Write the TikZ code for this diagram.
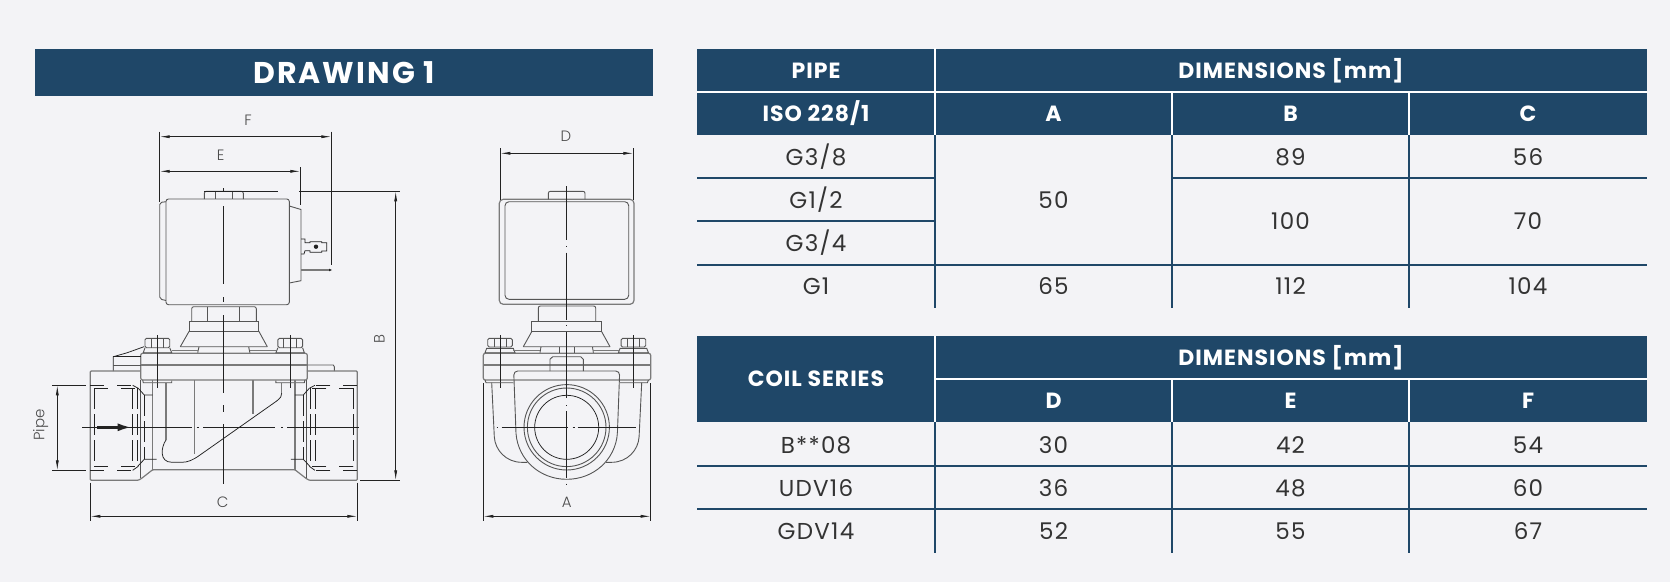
\documentclass[tikz,border=0pt]{standalone}
\usepackage{fontspec}
\setmainfont{Poppins}
\newfontfamily\thinfont{Poppins Light}
\newfontfamily\headfont[LetterSpace=4.5]{Poppins}
\newfontfamily\titlefont[LetterSpace=7]{Poppins}
\newfontfamily\cellfont[LetterSpace=5.5]{Poppins}
\usetikzlibrary{arrows.meta}
\definecolor{navy}{HTML}{1F4768}
\definecolor{paper}{HTML}{F3F3F6}
\definecolor{ink}{HTML}{222222}
\definecolor{greyline}{HTML}{7A7A7A}
\tikzset{
    x=1pt, y=-1pt,
    thin line/.style={line width=.75pt, draw=ink},
    body/.style={line width=.9pt, draw=greyline!70!black},
    grey part/.style={line width=1.2pt, draw=greyline},
    dim/.style={line width=.7pt, draw=ink, {Latex[length=10pt,width=3pt]}-{Latex[length=10pt,width=3pt]}},
    ext/.style={line width=.7pt, draw=ink},
    axis/.style={line width=.7pt, draw=ink},
    thread/.style={line width=.7pt, draw=ink, dash pattern=on 14pt off 13pt},
    long thread/.style={line width=.7pt, draw=ink, dash pattern=on 21pt off 5pt},
    dimlabel/.style={font=\thinfont\fontsize{15}{18}\selectfont, text=black!70, inner sep=0pt},
    headcell/.style={font=\headfont\fontsize{22}{24}\selectfont\bfseries, text=white, inner sep=0pt, text height=15pt, text depth=0pt},
    cell/.style={font=\cellfont\fontsize{23}{24}\selectfont, text=black!80, inner sep=0pt, text height=16pt, text depth=0pt},
    white sep/.style={line width=1.6pt, draw=white},
    navy sep/.style={line width=1.8pt, draw=navy},
}

\begin{document}
\begin{tikzpicture}
\fill[paper] (0,0) rectangle (1670,582);
\useasboundingbox (0,0) rectangle (1670,582);

% title and table headers
\fill[navy] (35,48.5) rectangle (653,96);
\node (title) [font=\titlefont\fontsize{30}{32}\selectfont\bfseries, text=white, inner sep=0pt] at (344,72.5) {DRAWING 1};
\fill[navy] (697,48.5) rectangle (1647,135);
\fill[navy] (697,336) rectangle (1647,422.3);

\draw[white sep] (697,92) -- (1647,92)
      (935,48) -- (935,135)
      (1172,92) -- (1172,135)
      (1409,92) -- (1409,135);
\draw[white sep] (935,379) -- (1647,379)
      (935,336) -- (935,422.3)
      (1172,379) -- (1172,422.3)
      (1409,379) -- (1409,422.3);

\draw[navy sep] (697,177.7) -- (935,177.7)
      (1172,177.7) -- (1647,177.7)
      (697,221) -- (935,221)
      (697,265) -- (1647,265);
\draw[navy sep] (697,465.7) -- (1647,465.7)
      (697,509) -- (1647,509);
\foreach \colx in {935,1172,1409}{
    \draw[navy sep] (\colx,135) -- (\colx,307.7);
    \draw[navy sep] (\colx,422.3) -- (\colx,552.7);
}

\foreach \cellname/\cellx/\celly/\celltext in {
    headPipe/816/70.7/PIPE, headIso/816/114/{ISO 228/1},
    headDimA/1291/70.7/{DIMENSIONS [mm]},
    headA/1053.5/114/A, headB/1290.5/114/B, headC/1528/114/C,
    headCoil/816/379/COIL SERIES,
    headDimB/1291/358/{DIMENSIONS [mm]},
    headD/1053.5/401/D, headE/1290.5/401/E, headF/1528/401/F}
    \node (\cellname) [headcell] at (\cellx,\celly) {\celltext};

\foreach \cellname/\cellx/\celly/\celltext in {
    pipeA/816/157/{G3/8}, pipeB/816/200/{G1/2}, pipeC/816/243/{G3/4}, pipeD/816/286/G1,
    dimAa/1053.5/200/50, dimBa/1290.5/157/89, dimCa/1528/157/56,
    dimBb/1290.5/221.5/100, dimCb/1528/221.5/70,
    dimAd/1053.5/286/65, dimBd/1290.5/286/112, dimCd/1528/286/104,
    coilA/816/445.7/B**08, coilB/816/488.3/UDV16, coilC/816/531/GDV14,
    dimDa/1053.5/445.7/30, dimEa/1290.5/445.7/42, dimFa/1528/445.7/54,
    dimDb/1053.5/488.3/36, dimEb/1290.5/488.3/48, dimFb/1528/488.3/60,
    dimDc/1053.5/531/52, dimEc/1290.5/531/55, dimFc/1528/531/67}
    \node (\cellname) [cell] at (\cellx,\celly) {\celltext};

% side view, coil
\draw[body, rounded corners=2.5pt] (166,199) rectangle (289.3,304.7);
\draw[body, rounded corners=2pt] (166,201.7) -- (159.7,202.5) -- (159.7,299) -- (166,300.5);
\draw[body] (289.3,206) -- (301,209.5) -- (301,280.7) -- (289.3,283);
\draw[body, rounded corners=2pt] (204.3,199) -- (204.3,191.3) -- (243.3,191.3) -- (243.3,199);
\draw[body] (215,191.3) -- (215,199) (232.3,191.3) -- (232.3,199);
\draw[thin line] (301,239) -- (305,239) -- (305,242.7) -- (310,242.7) -- (310,241.7)
    -- (321.7,241.7) -- (321.7,242.7) -- (326.7,242.7) -- (326.7,251) -- (321.7,251)
    -- (321.7,252.3) -- (310,252.3) -- (310,250.7) -- (305,250.7) -- (304,254) -- (301,254);
\fill[ink] (316,246.7) circle (2.2pt);
\draw[line width=2.6pt, draw=greyline] (301,270) -- (329,270);
\fill[ink] (329,268.7) -- (332,270) -- (329,271.3) -- cycle;

% side view, neck
\draw[body, rounded corners=2pt] (191.7,321.3) -- (191.7,306.7) -- (256.3,306.7) -- (256.3,321.3);
\draw[body] (207.3,306.7) -- (207.3,321.3) (239.7,306.7) -- (239.7,321.3);
\draw[body] (189.3,321.3) rectangle (258.7,331);
\draw[body] (189.3,331) -- (180.3,346.7) (258.7,331) -- (267.3,346.7);

% side view, flange and valve
\draw[grey part, rounded corners=2pt] (140.7,353.3) rectangle (307.3,380);
\draw[grey part] (140.7,365) -- (307.3,365);
\draw[thin line] (113.3,371) -- (113.3,356.7) -- (127.3,352.7) -- (144,346.7);
\draw[thin line] (113.3,356.7) -- (140.7,356.7);
\draw[body] (113.3,365) -- (140.7,365);
\draw[body] (307.3,365) -- (333.3,365) -- (334.3,366.7) -- (334.3,371);
\draw[grey part] (166,382.7) -- (166,440);
\draw[thin line] (166,440) .. controls (161,447) and (159,462.3) .. (172,462.3)
    -- (181.7,462.3) .. controls (188,462.3) and (193,460) .. (200,455)
    -- (276.7,401) .. controls (281,397.5) and (281.7,396) .. (281.7,393);
\draw[grey part] (281.7,393) -- (281.7,382.7);
\draw[grey part] (194.3,380) -- (194.3,454.3) (253,380) -- (253,414.3);

\foreach \m in {1,-1}{
\begin{scope}[shift={(223.8,0)}, xscale=\m, shift={(-223.8,0)}]
    % bolt
    \draw[body, rounded corners=1.5pt] (145,347.7) -- (145,338.3) -- (169.7,338.3) -- (169.7,347.7) -- cycle;
    \draw[body] (151.3,338.3) -- (151.3,347.7) (163.7,338.3) -- (163.7,347.7);
    \draw[body] (145,347.7) -- (143.3,352.7) -- (171.7,352.7) -- (169.7,347.7);
    \draw[axis] (157.3,335) -- (157.3,387.7);
    \draw[body] (142.7,380) -- (143.3,382.7) -- (171.7,382.7) -- (171.7,380.7);
    \draw[body] (180.3,346.7) -- (223.8,346.7) (199,346.7) -- (197.7,352.7);
    \draw[grey part, line width=.6pt] (171.7,350) -- (197.7,350);
    % port
    \draw[grey part, rounded corners=1pt] (140.7,371) -- (90.3,371) -- (90.3,480.3) -- (138.3,480.3)
        -- (141.7,478.3) -- (152.7,469.7) -- (223.8,469.7);
    \draw[grey part] (152.7,380) -- (152.7,469.7);
    \draw[body] (140.7,380) -- (140.7,478);
    \draw[thin line] (138.3,388.3) -- (144.3,395) -- (152.7,395);
    \draw[thin line] (138,466) -- (144.3,459.3) -- (156.7,459.3);
    % thread
    \draw[thread] (90.3,385.3) -- (132.7,385.3) (94.3,388.3) -- (137.3,388.3);
    \draw[thread] (90.3,470.3) -- (132.7,470.3) (94.3,466.3) -- (137.3,466.3);
    \draw[thin line] (132.7,385.3) -- (138.3,388.3) (132.7,470.3) -- (138.3,466.3);
    \draw[long thread] (94.3,388.3) -- (94.3,466.3) (132.7,388.3) -- (132.7,466.3)
        (137.3,388.3) -- (137.3,466.3) (144.3,395) -- (144.3,459.3);
\end{scope}
}

% front view, coil
\draw[grey part, rounded corners=4pt] (499.3,199.3) rectangle (634,304.3);
\draw[body, rounded corners=4pt] (505,201.7) rectangle (628.7,299.3);
\draw[body, rounded corners=2pt] (548.3,199.3) -- (548.3,191.3) -- (585,191.3) -- (585,199.3);

% front view, neck
\draw[body, rounded corners=2pt] (538.3,321) -- (538.3,306) -- (595.7,306) -- (595.7,321);
\draw[body] (531.7,321) rectangle (601.7,331.7);
\draw[body] (531.7,331.7) -- (523.3,346.7) (601.7,331.7) -- (610,346.7);

% front view, flange and body
\draw[grey part, rounded corners=2pt] (483.3,353.3) rectangle (650.7,380);
\draw[grey part] (483.3,365) -- (650.7,365);
\foreach \m in {1,-1}{
\begin{scope}[shift={(566.7,0)}, xscale=\m, shift={(-566.7,0)}]
    \draw[body, rounded corners=1.5pt] (487.7,347) -- (487.7,338.3) -- (512.3,338.3) -- (512.3,347) -- cycle;
    \draw[body] (494,338.3) -- (494,347) (506,338.3) -- (506,347);
    \draw[body] (486.7,348.3) -- (513.3,348.3) -- (515,352.7) -- (485,352.7) -- cycle;
    \draw[axis] (500.3,335) -- (500.3,387.7);
    \draw[body] (523.3,346.7) -- (566.7,346.7) (541,346.7) -- (540,352.7);
    \draw[grey part, line width=.6pt] (513.3,350) -- (540,350);
    \draw[body] (559.3,346.7) -- (559.3,353.3);
    \draw[body] (550,371) -- (550,359.3) -- (552.7,356.7) -- (566.7,356.7);
    \draw[body] (485,380) -- (486,382.7) -- (513.3,382.7);
    \draw[body, rounded corners=4pt] (566.7,371) -- (513.7,371) -- (516,433.3);
    \draw[body] (516,433.3) .. controls (518,460) and (540,479.3) .. (566.7,479.3);
    \draw[body] (491.7,382.7) -- (494.3,436.7) .. controls (495,450) and (506,462.3) .. (521.7,462.3) -- (527.3,462.3);
\end{scope}
}
\draw[body, fill=paper] (566.7,427.3) circle (42.7pt);
\draw[body] (566.7,427.3) circle (39.3pt);
\draw[thin line] (566.7,427.3) circle (32pt);

% centre lines
\draw[axis] (223.3,188) -- (223.3,191.7)
      (223.3,206) -- (223.3,284.3)
      (223.3,297.3) -- (223.3,301.7)
      (223.3,315) -- (223.3,393.3)
      (223.3,405) -- (223.3,411.7)
      (223.3,424.3) -- (223.3,484.3);
\draw[axis] (82,427.3) -- (191.7,427.3)
      (196.5,427.3) -- (198.5,427.3)
      (203.3,427.3) -- (275.3,427.3)
      (281,427.3) -- (283,427.3)
      (287.3,427.3) -- (358.7,427.3);
\draw[axis] (566.7,186) -- (566.7,240)
      (566.7,245.8) -- (566.7,247)
      (566.7,252.7) -- (566.7,320)
      (566.7,324.8) -- (566.7,326)
      (566.7,331.7) -- (566.7,398.3)
      (566.7,405) -- (566.7,406.3)
      (566.7,411) -- (566.7,478.3)
      (566.7,483.7) -- (566.7,485);
\draw[axis] (496.7,427.3) -- (498.3,427.3)
      (501.7,427.3) -- (568.3,427.3)
      (572.5,427.3) -- (574.5,427.3)
      (577.7,427.3) -- (635.7,427.3);

% flow arrow
\draw[line width=2.6pt, ink, -{Latex[length=14pt,width=8pt]}] (97,427.3) -- (131.7,427.3);

% dimensions
\coordinate (fLeft) at (159.7,136.7);
\coordinate (fRight) at (331.3,136.7);
\coordinate (eLeft) at (159.7,171.3);
\coordinate (eRight) at (300.3,171.3);
\coordinate (bTop) at (395.7,191.3);
\coordinate (bBottom) at (395.7,480.3);
\coordinate (cLeft) at (90.3,516.3);
\coordinate (cRight) at (357.3,516.3);
\coordinate (pipeTop) at (57.3,385.3);
\coordinate (pipeBottom) at (57.3,470.3);
\coordinate (dLeft) at (500.3,153.3);
\coordinate (dRight) at (633.3,153.3);
\coordinate (aLeft) at (483.3,516.3);
\coordinate (aRight) at (650.7,516.3);

\draw[ext] (159.7,131.7) -- (159.7,201.7)
      (331.3,131.7) -- (331.3,265)
      (300.3,167.3) -- (300.3,205)
      (204.3,191.3) -- (278,191.3)
      (299.3,191.3) -- (400,191.3)
      (360,480.3) -- (400,480.3)
      (90.3,482.7) -- (90.3,520.7)
      (357.3,482.7) -- (357.3,520.7)
      (52.3,385.3) -- (86,385.3)
      (52.3,470.3) -- (86,470.3)
      (500.3,148.3) -- (500.3,200)
      (633.3,148.3) -- (633.3,200)
      (483.3,383.3) -- (483.3,520.7)
      (650.7,383.3) -- (650.7,520.7);

\draw[dim] (fLeft) -- (fRight);
\draw[dim] (eLeft) -- (eRight);
\draw[dim] (bTop) -- (bBottom);
\draw[dim] (cLeft) -- (cRight);
\draw[dim] (pipeTop) -- (pipeBottom);
\draw[dim] (dLeft) -- (dRight);
\draw[dim] (aLeft) -- (aRight);

\node (labelF) [dimlabel] at (248,120.7) {F};
\node (labelE) [dimlabel] at (220.7,155.7) {E};
\node (labelB) [dimlabel, rotate=90] at (379.3,339) {B};
\node (labelC) [dimlabel] at (222.7,502.3) {C};
\node (labelPipe) [dimlabel, rotate=90] at (40.7,425) {Pipe};
\node (labelD) [dimlabel] at (566,136.7) {D};
\node (labelA) [dimlabel] at (566.7,502.3) {A};
\end{tikzpicture}
\end{document}
